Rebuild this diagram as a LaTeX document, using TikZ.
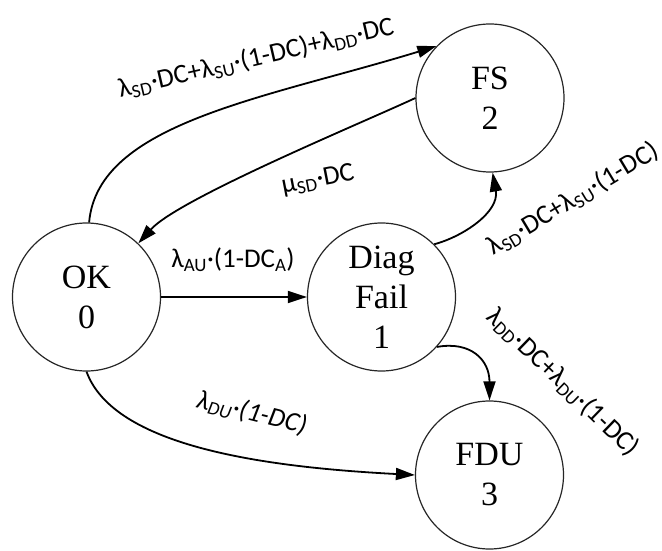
\documentclass[tikz,border=0pt]{standalone}
\usepackage{fontspec}
\setmainfont{Liberation Serif}
\newfontfamily\labelfont{Carlito}
\usetikzlibrary{arrows.meta}

\tikzset{
  state/.style={circle, draw=black!85, line width=1.2pt, minimum size=148pt,
    inner sep=0pt, align=center, font=\fontsize{34}{40}\selectfont},
  trans/.style={-{Triangle[length=19pt,width=12pt]}, line width=1.8pt},
  lbl/.style={font=\labelfont\fontsize{27}{30}\selectfont, inner sep=0pt},
}
\newcommand\sbs[1]{\textsubscript{#1}}

\begin{document}
\begin{tikzpicture}[x=1pt,y=1pt]
  \useasboundingbox (0,0) rectangle (662,550);

  % states of the Markov model
  \node[state] (ok)   at (86.5,253) {OK\\0};
  \node[state] (diag) at (381.5,253) {Diag\\Fail\\1};
  \node[state] (fs)   at (490,452) {FS\\2};
  \node[state] (fdu)  at (489.5,75) {FDU\\3};

  % transitions
  \draw[trans] (ok) -- (diag);
  \draw[trans] (ok.88) .. controls +(85:100) and +(197:180) .. (fs.136);
  \draw[trans] (fs.180) .. controls +(205:60) and +(48:60) .. (ok.46);
  \draw[trans] (diag.45) .. controls +(15:30) and +(-80:40) .. (fs.272);
  \draw[trans] (diag.-42) .. controls +(10:35) and +(90:40) .. (fdu.90);
  \draw[trans] (ok.-90) .. controls +(-70:80) and +(177:150) .. (fdu.180);

  % transition rates
  \node[lbl] (lau) at (233,290) {λ\sbs{AU}·(1-DC\sbs{A})};
  \node[lbl, rotate=13] (ltop) at (256,492) {λ\sbs{SD}·DC+λ\sbs{SU}·(1-DC)+λ\sbs{DD}·DC};
  \node[lbl, rotate=11] (lmu) at (318,370) {μ\sbs{SD}·DC};
  \node[lbl, rotate=31] (lfs) at (573,351) {λ\sbs{SD}·DC+λ\sbs{SU}·(1-DC)};
  \node[lbl, rotate=-44] (lfdu) at (563,168) {λ\sbs{DD}·DC+λ\sbs{DU}·(1-DC)};
  \node[lbl, rotate=-14] (ldu) at (252,137) {\itshape λ\sbs{DU}·(1-DC)};
\end{tikzpicture}
\end{document}
